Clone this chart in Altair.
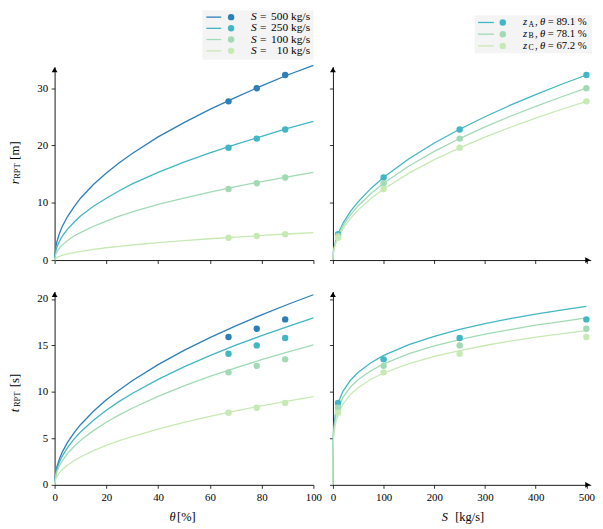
import altair as alt
import pandas as pd

FONT = "Liberation Serif"

# ---------------- data ----------------
theta_grid = [0, 0.5, 1, 2, 3, 5, 7.5, 10, 15, 20, 25, 30, 40, 50, 60, 70, 80, 90, 100]
r_theta_S500 = [0, 2.4, 3.4, 4.8, 5.9, 7.6, 9.3, 10.8, 13.2, 15.2, 17.0, 18.6, 21.5, 24.0, 26.3, 28.4, 30.4, 32.3, 34.0]
r_theta_S250 = [0, 1.7, 2.4, 3.4, 4.2, 5.4, 6.6, 7.7, 9.4, 10.8, 12.1, 13.3, 15.3, 17.1, 18.7, 20.2, 21.6, 23.0, 24.2]
r_theta_S100 = [0, 1.1, 1.5, 2.2, 2.65, 3.4, 4.2, 4.8, 5.9, 6.8, 7.65, 8.4, 9.7, 10.8, 11.85, 12.8, 13.7, 14.5, 15.3]
r_theta_S10 = [0, 0.34, 0.48, 0.68, 0.83, 1.07, 1.31, 1.52, 1.86, 2.15, 2.4, 2.63, 3.04, 3.39, 3.72, 4.02, 4.29, 4.55, 4.8]

t_theta_S500 = [0, 1.45, 2.05, 2.9, 3.55, 4.57, 5.6, 6.47, 7.92, 9.15, 10.2, 11.2, 12.93, 14.46, 15.84, 17.11, 18.29, 19.4, 20.45]
t_theta_S250 = [0, 1.27, 1.8, 2.54, 3.11, 4.01, 4.92, 5.68, 6.95, 8.03, 8.98, 9.83, 11.35, 12.69, 13.9, 15.02, 16.05, 17.03, 17.95]
t_theta_S100 = [0, 1.06, 1.5, 2.13, 2.6, 3.37, 4.12, 4.76, 5.83, 6.73, 7.52, 8.24, 9.52, 10.64, 11.66, 12.59, 13.46, 14.28, 15.05]
t_theta_S10 = [0, 0.67, 0.95, 1.34, 1.65, 2.12, 2.6, 3.0, 3.68, 4.25, 4.75, 5.2, 6.0, 6.72, 7.36, 7.95, 8.5, 9.01, 9.5]

theta_pts = [67.2, 78.1, 89.1]
r_pts_S500 = [27.7, 30.0, 32.3]
r_pts_S250 = [19.6, 21.2, 22.8]
r_pts_S100 = [12.4, 13.4, 14.4]
r_pts_S10 = [3.9, 4.2, 4.5]
t_pts_S500 = [15.9, 16.8, 17.8]
t_pts_S250 = [14.1, 15.0, 15.8]
t_pts_S100 = [12.1, 12.8, 13.5]
t_pts_S10 = [7.75, 8.3, 8.8]

S_grid_r = [0, 1, 2, 5, 10, 20, 35, 50, 75, 100, 150, 200, 250, 300, 350, 400, 450, 500]
r_S_zA = [0, 1.44, 2.04, 3.23, 4.57, 6.46, 8.55, 10.21, 12.51, 14.44, 17.69, 20.43, 22.84, 25.02, 27.03, 28.89, 30.64, 32.3]
r_S_zB = [0, 1.34, 1.9, 3.0, 4.24, 6.0, 7.94, 9.49, 11.62, 13.42, 16.43, 18.97, 21.21, 23.24, 25.1, 26.83, 28.46, 30.0]
r_S_zC = [0, 1.24, 1.75, 2.77, 3.92, 5.54, 7.33, 8.76, 10.73, 12.39, 15.17, 17.52, 19.59, 21.46, 23.18, 24.78, 26.28, 27.7]

S_grid_t = [0, 0.2, 1, 2, 5, 10, 20, 35, 50, 75, 100, 150, 200, 250, 300, 350, 400, 450, 500]
t_S_zA = [0, 4.01, 5.54, 6.36, 7.64, 8.78, 10.09, 11.28, 12.12, 13.14, 13.92, 15.09, 15.98, 16.72, 17.34, 17.88, 18.36, 18.8, 19.2]
t_S_zB = [0, 3.75, 5.18, 5.95, 7.15, 8.21, 9.43, 10.55, 11.33, 12.28, 13.01, 14.11, 14.94, 15.63, 16.21, 16.71, 17.17, 17.57, 17.95]
t_S_zC = [0, 3.47, 4.79, 5.5, 6.61, 7.59, 8.72, 9.75, 10.47, 11.36, 12.03, 13.05, 13.82, 14.45, 14.99, 15.46, 15.88, 16.25, 16.6]

S_pts = [10, 100, 250, 500]
r_S_pts_zA = [4.5, 14.4, 22.8, 32.3]
r_S_pts_zB = [4.2, 13.4, 21.2, 30.0]
r_S_pts_zC = [3.9, 12.4, 19.6, 27.7]
t_S_pts_zA = [8.8, 13.5, 15.8, 17.8]
t_S_pts_zB = [8.3, 12.8, 15.0, 16.8]
t_S_pts_zC = [7.75, 12.1, 14.1, 15.9]

S_names = ["S500", "S250", "S100", "S10"]
S_labels = ["500", "250", "100", "10"]
S_colors = ["#2c7fb8", "#41b6c4", "#a1dab4", "#c7e9b4"]
z_names = ["zA", "zB", "zC"]
z_subs = ["A", "B", "C"]
z_theta_labels = ["= 89.1 %", "= 78.1 %", "= 67.2 %"]
z_colors = ["#41b6c4", "#a1dab4", "#c7e9b4"]


def long_df(xs, series, names, xname, yname):
    rows = []
    for name, ys in zip(names, series):
        for xv, yv in zip(xs, ys):
            rows.append({xname: xv, yname: yv, "series": name})
    return pd.DataFrame(rows)


ONE = pd.DataFrame({"k": [0]})


def txt(s, x, y, size=11, italic=False, align="left", baseline="middle", angle=0):
    kw = dict(text=s, font=FONT, fontSize=size, align=align, baseline=baseline, color="black")
    if italic:
        kw["fontStyle"] = "italic"
    if angle:
        kw["angle"] = angle
    return alt.Chart(ONE).mark_text(**kw).encode(x=alt.value(x), y=alt.value(y))


def arrow(shape, x, y):
    return alt.Chart(ONE).mark_point(shape=shape, filled=True, color="black", size=34,
                                     opacity=1, strokeWidth=0).encode(x=alt.value(x), y=alt.value(y))


def rule(x1, x2, y, color):
    return alt.Chart(ONE).mark_rule(color=color, strokeWidth=1.3).encode(
        x=alt.value(x1), x2=alt.value(x2), y=alt.value(y))


def dot(x, y, color):
    return alt.Chart(ONE).mark_circle(color=color, size=42, opacity=1).encode(x=alt.value(x), y=alt.value(y))


def rect(x1, x2, y1, y2):
    return alt.Chart(ONE).mark_rect(color="#f4f4f4").encode(
        x=alt.value(x1), x2=alt.value(x2), y=alt.value(y1), y2=alt.value(y2))


def panel(curves, pts, xname, yname, xdom, ydom, xvals, yvals, xlab, ylab, cdom, crange, w, h, extras):
    xenc = alt.X(f"{xname}:Q", scale=alt.Scale(domain=xdom, nice=False, zero=False),
                 axis=alt.Axis(values=xvals, labels=xlab, title=None, labelFlush=False, labelOverlap=False))
    yenc = alt.Y(f"{yname}:Q", scale=alt.Scale(domain=ydom, nice=False, zero=False),
                 axis=alt.Axis(values=yvals, labels=ylab, title=None, labelOverlap=False))
    cenc = alt.Color("series:N", scale=alt.Scale(domain=cdom, range=crange), legend=None)
    lines = alt.Chart(curves).mark_line(strokeWidth=1.3).encode(x=xenc, y=yenc, color=cenc, detail="series:N")
    points = alt.Chart(pts).mark_circle(size=42, opacity=1).encode(x=xenc, y=yenc, color=cenc)
    return alt.layer(lines, points, *extras).properties(width=w, height=h)


WL, WR, H = 261, 260, 195
R_DOM = [0, 33.75]
T_DOM = [0, 20.8]
TH_DOM = [0, 100]
S_DOM = [0, 508.6]

# ---------- top-left legend (S) ----------
leg_S = [rect(149, 261, -57, -7)]
rows_S = [-50, -38.7, -27.4, -16]
for yy, lab, col in zip(rows_S, S_labels, S_colors):
    leg_S += [rule(153, 168, yy, col), dot(178, yy, col),
              txt("S", 198, yy, size=11.5, italic=True), txt("=", 210.5, yy, size=11.5, align="center"),
              txt(lab, 235.5, yy, size=11.5, align="right"), txt("kg/s", 238.5, yy, size=11.5)]

# ---------- top-right legend (z) ----------
leg_z = [rect(143, 261.3, -52, -13.5)]
rows_z = [-44.6, -32.8, -21.0]
for yy, sub, th, col in zip(rows_z, z_subs, z_theta_labels, z_colors):
    leg_z += [rule(146.3, 162.3, yy, col), dot(171.3, yy, col),
              txt("z", 191.8, yy, size=10.8, italic=True), txt(sub, 197.3, yy + 2.1, size=7.8),
              txt(",", 203.8, yy, size=10.8), txt("θ", 208.8, yy, size=10.8, italic=True),
              txt(th, 216.6, yy, size=10.8)]

ytitle_r = [txt("r", -36, 118.5, size=13, italic=True, baseline="alphabetic", angle=270),
            txt("RPT", -34.5, 113, size=8.5, baseline="alphabetic", angle=270),
            txt("[m]", -36, 94, size=13, baseline="alphabetic", angle=270)]
ytitle_t = [txt("t", -36, 121.8, size=13, italic=True, baseline="alphabetic", angle=270),
            txt("RPT", -34.5, 116.5, size=8.5, baseline="alphabetic", angle=270),
            txt("[s]", -36, 96.5, size=13, baseline="alphabetic", angle=270)]
xtitle_th = [txt("θ", 116, 227.3, size=12.5, italic=True), txt("[%]", 123.5, 227.3, size=12.5)]
xtitle_S = [txt("S", 109.8, 227.3, size=12.5, italic=True), txt("[kg/s]", 123.3, 227.3, size=12.5)]

tl = panel(long_df(theta_grid, [r_theta_S500, r_theta_S250, r_theta_S100, r_theta_S10], S_names, "theta", "r"),
           long_df(theta_pts, [r_pts_S500, r_pts_S250, r_pts_S100, r_pts_S10], S_names, "theta", "r"),
           "theta", "r", TH_DOM, R_DOM, [0, 20, 40, 60, 80, 100], [0, 10, 20, 30], False, True,
           S_names, S_colors, WL, H, [arrow("triangle-up", 0, 3)] + leg_S + ytitle_r)

tr = panel(long_df(S_grid_r, [r_S_zA, r_S_zB, r_S_zC], z_names, "S", "r"),
           long_df(S_pts, [r_S_pts_zA, r_S_pts_zB, r_S_pts_zC], z_names, "S", "r"),
           "S", "r", S_DOM, R_DOM, [0, 100, 200, 300, 400, 500], [0, 10, 20, 30], False, False,
           z_names, z_colors, WR, H, [arrow("triangle-up", 0, 3), arrow("triangle-right", WR - 3, H)] + leg_z)

bl = panel(long_df(theta_grid, [t_theta_S500, t_theta_S250, t_theta_S100, t_theta_S10], S_names, "theta", "t"),
           long_df(theta_pts, [t_pts_S500, t_pts_S250, t_pts_S100, t_pts_S10], S_names, "theta", "t"),
           "theta", "t", TH_DOM, T_DOM, [0, 20, 40, 60, 80, 100], [0, 5, 10, 15, 20], True, True,
           S_names, S_colors, WL, H, [arrow("triangle-up", 0, 3)] + ytitle_t + xtitle_th)

br = panel(long_df(S_grid_t, [t_S_zA, t_S_zB, t_S_zC], z_names, "S", "t"),
           long_df(S_pts, [t_S_pts_zA, t_S_pts_zB, t_S_pts_zC], z_names, "S", "t"),
           "S", "t", S_DOM, T_DOM, [0, 100, 200, 300, 400, 500], [0, 5, 10, 15, 20], True, False,
           z_names, z_colors, WR, H, [arrow("triangle-up", 0, 3), arrow("triangle-right", WR - 3, H)] + xtitle_S)

chart = alt.ConcatChart(
    concat=[tl, tr, bl, br], columns=2, bounds="flush",
    spacing={"row": 31.7, "column": 19.7},
).resolve_scale(color="independent").properties(padding=0, background="white").configure_view(
    stroke=None).configure_axis(
    domainColor="black", tickColor="black", labelColor="black", labelFont=FONT, labelFontSize=11,
    tickSize=3.5, grid=False, domainWidth=0.9, tickWidth=0.8, labelPadding=3.5,
)

chart.save("out.html", embed_options={"renderer": "svg", "actions": False})
